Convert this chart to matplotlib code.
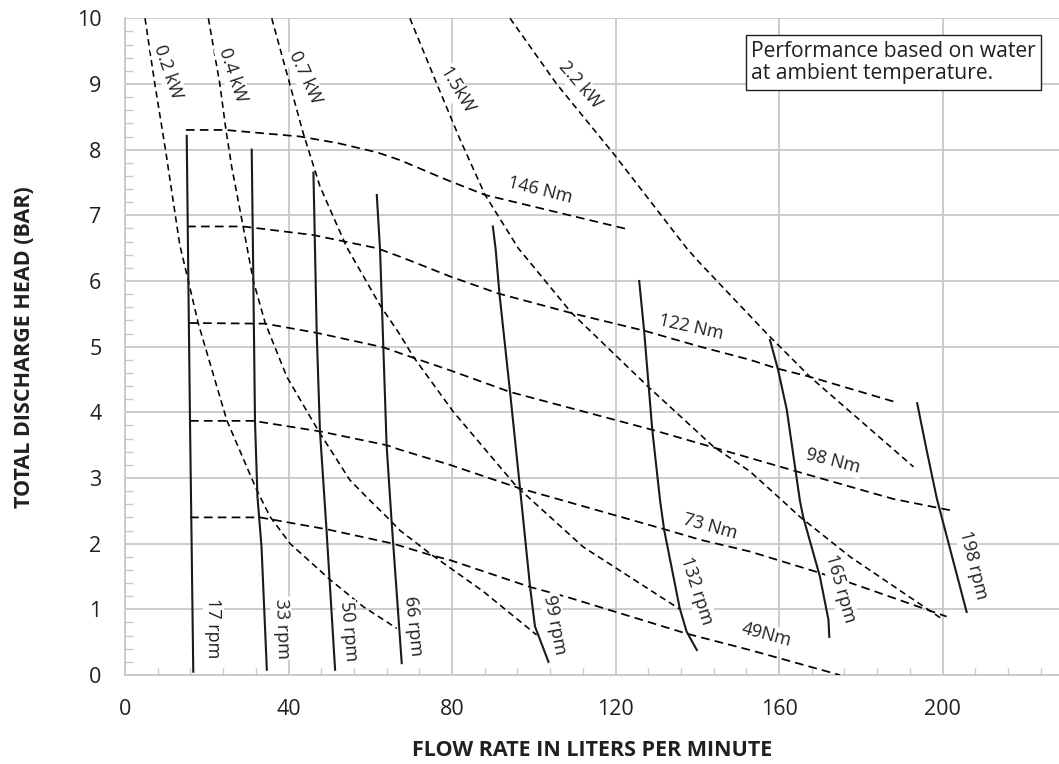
import matplotlib
matplotlib.use("Agg")
import matplotlib.pyplot as plt
from matplotlib.ticker import MultipleLocator

plt.rcParams['font.family'] = ['Open Sans', 'DejaVu Sans']

# ---- power curves (kW), dashed ----
kw_02_x = [4.9, 7.3, 9.9, 13.4, 15.5, 17.9, 24.9, 32.2, 35.5, 40.4, 50.2, 58.3, 66.5]
kw_02_y = [10.0, 9.0, 8.0, 6.55, 6.0, 5.36, 3.88, 2.82, 2.41, 2.0, 1.45, 1.04, 0.71]
kw_04_x = [20.4, 23.2, 24.7, 26.1, 28.9, 31.4, 34.3, 39.6, 47.2, 55.0, 59.1, 64.8, 67.3, 74.6, 87.7, 100.7]
kw_04_y = [10.0, 9.0, 8.3, 7.74, 6.83, 6.0, 5.36, 4.54, 3.73, 2.97, 2.71, 2.36, 2.2, 1.85, 1.27, 0.61]
kw_07_x = [35.9, 39.6, 43.6, 47.7, 54.2, 62.4, 67.3, 70.5, 80.3, 95.8, 112.1, 135.8]
kw_07_y = [10.0, 9.16, 8.25, 7.44, 6.52, 5.63, 5.18, 4.85, 4.01, 2.87, 1.95, 1.0]
kw_15_x = [69.7, 76.3, 82.0, 88.1, 96.2, 109.3, 128.0, 143.9, 152.9, 160.2, 165.1, 177.4, 200.2]
kw_15_y = [10.0, 9.0, 8.15, 7.31, 6.5, 5.51, 4.39, 3.48, 3.1, 2.69, 2.41, 1.8, 0.84]
kw_22_x = [94.2, 105.6, 119.5, 137.4, 140.7, 157.0, 167.6, 192.9]
kw_22_y = [10.0, 9.0, 7.94, 6.5, 6.27, 5.2, 4.54, 3.17]

# ---- torque curves (Nm), dashed ----
nm_146_x = [14.9, 24.5, 42.8, 52.0, 61.6, 67.3, 78.7, 88.1, 123.5]
nm_146_y = [8.3, 8.3, 8.2, 8.1, 7.96, 7.84, 7.54, 7.31, 6.78]
nm_122_x = [15.2, 28.9, 46.0, 61.6, 67.3, 79.5, 91.3, 109.3, 127.2, 140.7, 152.9, 159.4, 167.6, 188.8]
nm_122_y = [6.83, 6.83, 6.7, 6.5, 6.37, 6.07, 5.81, 5.51, 5.24, 5.0, 4.8, 4.67, 4.54, 4.15]
nm_98_x = [15.7, 34.3, 46.9, 63.2, 67.3, 79.5, 94.2, 129.2, 144.8, 164.3, 188.0, 201.8]
nm_98_y = [5.36, 5.35, 5.21, 4.99, 4.9, 4.64, 4.31, 3.73, 3.45, 3.1, 2.68, 2.51]
nm_73_x = [15.9, 31.4, 47.7, 64.0, 67.3, 79.5, 96.2, 132.5, 140.7, 152.9, 169.2, 179.0, 201.0]
nm_73_y = [3.87, 3.87, 3.71, 3.5, 3.43, 3.2, 2.85, 2.21, 2.06, 1.88, 1.57, 1.37, 0.89]
nm_49_x = [15.9, 33.0, 49.3, 65.6, 74.6, 79.5, 99.1, 108.0, 137.4, 152.9, 174.9]
nm_49_y = [2.4, 2.4, 2.22, 2.0, 1.83, 1.75, 1.34, 1.19, 0.63, 0.38, 0.0]

# ---- speed curves (rpm), solid ----
rpm_17_x = [15.1, 15.5, 15.9, 16.3, 16.7]
rpm_17_y = [8.21, 6.0, 3.87, 2.0, 0.05]
rpm_33_x = [31.0, 31.4, 31.8, 32.4, 33.4, 34.7]
rpm_33_y = [8.0, 6.0, 3.87, 2.72, 1.95, 0.08]
rpm_50_x = [46.1, 46.9, 47.7, 49.3, 51.4]
rpm_50_y = [7.65, 5.21, 3.71, 2.21, 0.08]
rpm_66_x = [61.6, 62.4, 63.2, 64.0, 65.2, 67.7]
rpm_66_y = [7.31, 6.47, 4.99, 3.5, 2.36, 0.18]
rpm_99_x = [90.0, 90.7, 91.6, 94.2, 96.6, 99.1, 100.3, 103.6]
rpm_99_y = [6.83, 6.47, 5.81, 4.31, 2.87, 1.34, 0.74, 0.2]
rpm_132_x = [125.8, 127.0, 129.0, 130.9, 131.9, 135.7, 137.4, 139.9]
rpm_132_y = [6.0, 5.24, 3.73, 2.66, 2.21, 1.02, 0.66, 0.38]
rpm_165_x = [157.8, 159.8, 161.9, 165.1, 165.9, 170.0, 172.1, 172.3]
rpm_165_y = [5.1, 4.64, 4.04, 2.66, 2.41, 1.5, 0.84, 0.58]
rpm_198_x = [193.8, 196.1, 198.6, 200.2, 205.9]
rpm_198_y = [4.14, 3.43, 2.69, 2.31, 0.96]

kw_labels = ["0.2 kW", "0.4 kW", "0.7 kW", "1.5kW", "2.2 kW"]
nm_labels = ["146 Nm", "122 Nm", "98 Nm", "73 Nm", "49Nm"]
rpm_labels = ["17 rpm", "33 rpm", "50 rpm", "66 rpm", "99 rpm", "132 rpm", "165 rpm", "198 rpm"]

x_ticks = [0, 40, 80, 120, 160, 200]
y_ticks = [0, 1, 2, 3, 4, 5, 6, 7, 8, 9, 10]

fig = plt.figure(figsize=(10.59, 7.64), dpi=100)
ax = fig.add_axes([125 / 1059, 1 - 675 / 764, 1 - 125 / 1059, (675 - 18.3) / 764])
ax.set_xlim(0, 228.5)
ax.set_ylim(0, 10)

grid_c = '#c8c8c8'
ax.set_xticks(x_ticks)
ax.set_yticks(y_ticks)
ax.xaxis.set_minor_locator(MultipleLocator(8))
ax.yaxis.set_minor_locator(MultipleLocator(0.2))
ax.grid(True, which='major', color=grid_c, linewidth=1.3, zorder=0)
ax.set_axisbelow(True)
for s in ['top', 'right']:
    ax.spines[s].set_visible(False)
for s in ['left', 'bottom']:
    ax.spines[s].set_color(grid_c)
    ax.spines[s].set_linewidth(1.3)
ax.tick_params(which='both', direction='in', color=grid_c, width=1.0)
ax.tick_params(which='major', length=0)
ax.tick_params(axis='x', which='minor', length=5)
ax.tick_params(axis='y', which='minor', length=6)
ax.tick_params(axis='x', which='major', pad=17, labelsize=15.5, labelcolor='#231f20')
ax.tick_params(axis='y', which='major', pad=17, labelsize=15.5, labelcolor='#231f20')

ax.set_xlabel("FLOW RATE IN LITERS PER MINUTE", fontsize=15.5, fontweight='bold',
              color='#231f20', labelpad=15)
ax.set_ylabel("TOTAL DISCHARGE HEAD (BAR)", fontsize=15.5, fontweight='bold',
              color='#231f20', labelpad=30)

kw_style = dict(color='black', linewidth=1.15, dashes=(4, 2.6), zorder=3)
nm_style = dict(color='black', linewidth=1.25, dashes=(5, 3), zorder=3)
rpm_style = dict(color='#1a1a1a', linewidth=1.5, zorder=4)

for xs, ys in [(kw_02_x, kw_02_y), (kw_04_x, kw_04_y), (kw_07_x, kw_07_y),
               (kw_15_x, kw_15_y), (kw_22_x, kw_22_y)]:
    ax.plot(xs, ys, **kw_style)
for xs, ys in [(nm_146_x, nm_146_y), (nm_122_x, nm_122_y), (nm_98_x, nm_98_y),
               (nm_73_x, nm_73_y), (nm_49_x, nm_49_y)]:
    ax.plot(xs, ys, **nm_style)
for xs, ys in [(rpm_17_x, rpm_17_y), (rpm_33_x, rpm_33_y), (rpm_50_x, rpm_50_y),
               (rpm_66_x, rpm_66_y), (rpm_99_x, rpm_99_y), (rpm_132_x, rpm_132_y),
               (rpm_165_x, rpm_165_y), (rpm_198_x, rpm_198_y)]:
    ax.plot(xs, ys, **rpm_style)

box = dict(facecolor='white', edgecolor='none', pad=1.0)
lab_fs = 13

kw_pos = [(10.6, 9.19, -71), (26.3, 9.14, -71.5), (44.0, 9.1, -65.5), (81.1, 8.9, -59), (111.3, 8.98, -49)]
for t, (x, y, r) in zip(kw_labels, kw_pos):
    ax.text(x, y, t, rotation=r, rotation_mode='anchor', ha='center', va='center',
            fontsize=lab_fs, color='#231f20', bbox=box, zorder=6)

nm_pos = [(101.5, 7.39, -14), (138.6, 5.3, -12.5), (173.3, 3.25, -14.5), (143.1, 2.26, -15.5), (157.0, 0.61, -15)]
for t, (x, y, r) in zip(nm_labels, nm_pos):
    ax.text(x, y, t, rotation=r, rotation_mode='anchor', ha='center', va='center',
            fontsize=lab_fs, color='#231f20', bbox=box, zorder=6)

rpm_pos = [(21.6, 0.71, -90), (38.3, 0.71, -88), (54.6, 0.66, -85), (70.5, 0.74, -84),
           (105.2, 0.76, -79), (139.9, 1.29, -72), (174.9, 1.32, -74), (207.5, 1.67, -76)]
for t, (x, y, r) in zip(rpm_labels, rpm_pos):
    ax.text(x, y, t, rotation=r, rotation_mode='anchor', ha='center', va='center',
            fontsize=lab_fs, color='#231f20', bbox=box, zorder=6)

fig.text(751 / 1059, 1 - 62.5 / 764, "Performance based on water\nat ambient temperature.",
         ha='left', va='center', fontsize=15.2, color='#231f20', linespacing=1.12,
         bbox=dict(facecolor='white', edgecolor='#231f20', linewidth=1.0,
                   boxstyle='square,pad=0.26'), zorder=10)

fig.savefig("out.png", dpi=100)
